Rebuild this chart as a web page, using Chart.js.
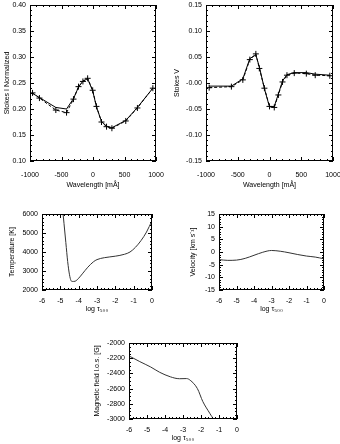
<!DOCTYPE html>
<html>
<head>
<meta charset="utf-8">
<script src="https://cdn.jsdelivr.net/npm/chart.js@4"></script>
<style>
  body { margin: 0; background: #fff; }
  #wrap { position: relative; width: 340px; height: 444px; overflow: hidden; }
  #wrap div { position: absolute; }
</style>
</head>
<body>
<div id="wrap">
  <div id="p1" style="left:0;top:0;width:165px;height:192px"><canvas id="c1"></canvas></div>
  <div id="p2" style="left:170px;top:0;width:170px;height:192px"><canvas id="c2"></canvas></div>
  <div id="p3" style="left:0;top:205px;width:165px;height:110px"><canvas id="c3"></canvas></div>
  <div id="p4" style="left:170px;top:205px;width:170px;height:110px"><canvas id="c4"></canvas></div>
  <div id="p5" style="left:80px;top:335px;width:175px;height:109px"><canvas id="c5"></canvas></div>
</div>
<script>
// Stokes I profile (observed + fit)
const wavelengthI = [-960, -850, -590, -420, -310, -230, -160, -85, -5, 55, 135, 215, 300, 520, 705, 950];
const stokesIObs = [0.231, 0.221, 0.198, 0.193, 0.219, 0.243, 0.253, 0.259, 0.236, 0.205, 0.175, 0.166, 0.163, 0.177, 0.202, 0.240];
const stokesIFit = [0.230, 0.222, 0.203, 0.200, 0.220, 0.242, 0.254, 0.258, 0.235, 0.204, 0.176, 0.167, 0.164, 0.178, 0.203, 0.240];

// Stokes V profile (observed + fit)
const wavelengthV = [-950, -600, -420, -310, -215, -160, -80, 0, 75, 140, 205, 275, 390, 580, 720, 950];
const stokesVObs = [-0.009, -0.007, 0.006, 0.045, 0.056, 0.028, -0.010, -0.045, -0.047, -0.023, 0.002, 0.015, 0.019, 0.018, 0.015, 0.014];
const stokesVFit = [-0.006, -0.006, 0.008, 0.047, 0.054, 0.031, -0.011, -0.046, -0.045, -0.021, 0.004, 0.016, 0.020, 0.020, 0.017, 0.015];

// inverted atmosphere
const logTauT = [-4.9, -4.8, -4.7, -4.6, -4.5, -4.42, -4.35, -4.2, -4.0, -3.8, -3.5, -3.2, -3.0, -2.6, -2.0, -1.5, -1.2, -0.9, -0.6, -0.3, 0];
const temperature = [6500, 5500, 4500, 3500, 2800, 2500, 2450, 2460, 2620, 2850, 3200, 3480, 3600, 3700, 3780, 3880, 4000, 4250, 4600, 5050, 5650];

const logTauV = [-6, -5.5, -5.0, -4.5, -4.0, -3.5, -3.0, -2.5, -2.0, -1.5, -1.0, -0.5, 0];
const velocity = [-3.0, -3.3, -3.2, -2.5, -1.3, -0.1, 0.6, 0.3, -0.3, -1.0, -1.6, -2.0, -2.7];

const logTauB = [-6, -5.4, -4.8, -4.3, -3.7, -3.2, -2.8, -2.6, -2.2, -1.9, -1.5, -1.3, -1.0];
const fieldB = [-2170, -2245, -2315, -2385, -2445, -2470, -2468, -2490, -2600, -2770, -2930, -3010, -3200];

// tick labels
const wavelengthTicks = ['-1000', '-500', '0', '500', '1000'];
const stokesITicks = ['0.10', '0.15', '0.20', '0.25', '0.30', '0.35', '0.40'];
const stokesVTicks = ['-0.15', '-0.10', '-0.05', '-0.00', '0.05', '0.10', '0.15'];
const logTauTicks = ['-6', '-5', '-4', '-3', '-2', '-1', '0'];
const temperatureTicks = ['2000', '3000', '4000', '5000', '6000'];
const velocityTicks = ['-15', '-10', '-5', '0', '5', '10', '15'];
const fieldTicks = ['-3000', '-2800', '-2600', '-2400', '-2200', '-2000'];

const FONT = 'Liberation Sans, Arial, sans-serif';
Chart.defaults.font.family = FONT;
Chart.defaults.font.size = 7;
Chart.defaults.color = '#000';

const pts = (xs, ys) => xs.map((x, i) => ({ x: x, y: ys[i] }));

// IDL style box with inward major + minor ticks
const idlBox = {
  id: 'idlBox',
  afterDatasetsDraw(chart, args, opts) {
    const ctx = chart.ctx;
    const a = chart.chartArea;
    const xs = chart.scales.x, ys = chart.scales.y;
    ctx.save();
    ctx.strokeStyle = '#000';
    ctx.lineWidth = 1;
    ctx.strokeRect(a.left + 0.5, a.top + 0.5, a.right - a.left - 1, a.bottom - a.top - 1);
    ctx.beginPath();
    const tickX = (v, len) => {
      const p = Math.round(xs.getPixelForValue(v)) + 0.5;
      ctx.moveTo(p, a.bottom); ctx.lineTo(p, a.bottom - len);
      ctx.moveTo(p, a.top); ctx.lineTo(p, a.top + len);
    };
    const tickY = (v, len) => {
      const p = Math.round(ys.getPixelForValue(v)) + 0.5;
      ctx.moveTo(a.left, p); ctx.lineTo(a.left + len, p);
      ctx.moveTo(a.right, p); ctx.lineTo(a.right - len, p);
    };
    const n1 = Math.round((xs.max - xs.min) / opts.xMinor);
    for (let i = 0; i <= n1; i++) tickX(xs.min + i * opts.xMinor, 2);
    const n2 = Math.round((ys.max - ys.min) / opts.yMinor);
    for (let i = 0; i <= n2; i++) tickY(ys.min + i * opts.yMinor, 2);
    xs.ticks.forEach(t => tickX(t.value, 4));
    ys.ticks.forEach(t => tickY(t.value, 4));
    ctx.stroke();
    ctx.restore();
  }
};

function makeChart(id, cfg) {
  const yw = cfg.yWidth, xh = cfg.xHeight;
  return new Chart(document.getElementById(id), {
    type: 'line',
    data: { datasets: cfg.datasets },
    options: {
      responsive: true,
      maintainAspectRatio: false,
      animation: false,
      events: [],
      layout: { padding: { top: cfg.padTop, right: cfg.padRight, left: cfg.padLeft, bottom: 0 } },
      plugins: {
        legend: { display: false },
        tooltip: { enabled: false },
        idlBox: { xMinor: cfg.xMinor, yMinor: cfg.yMinor }
      },
      scales: {
        x: {
          type: 'linear',
          min: cfg.xMin, max: cfg.xMax,
          grid: { display: false, drawTicks: false },
          border: { display: false },
          afterBuildTicks: s => { s.ticks = cfg.xTickVals.map(v => ({ value: v })); },
          ticks: {
            autoSkip: false, maxRotation: 0, padding: cfg.xTickPad,
            callback: (v, i) => cfg.xLabels[i]
          },
          title: { display: true, text: cfg.xTitle, padding: { top: 0, bottom: cfg.xTitlePad } },
          afterFit: s => { s.height = xh; s.paddingLeft = 0; s.paddingRight = 0; }
        },
        y: {
          min: cfg.yMin, max: cfg.yMax,
          grid: { display: false, drawTicks: false },
          border: { display: false },
          afterBuildTicks: s => { s.ticks = cfg.yTickVals.map(v => ({ value: v })); },
          ticks: {
            autoSkip: false, padding: 4,
            callback: (v, i) => cfg.yLabels[i]
          },
          title: { display: true, text: cfg.yTitle, padding: { top: 0, bottom: 0 } },
          afterFit: s => { s.width = yw; s.paddingTop = 0; s.paddingBottom = 0; }
        }
      }
    },
    plugins: [idlBox]
  });
}

const vals = (labels) => labels.map(Number);

const obsStyle = {
  borderColor: '#000', borderWidth: 1, borderDash: [3, 2],
  pointStyle: 'cross', pointRadius: 3, pointBorderColor: '#000', pointBorderWidth: 1,
  tension: 0, fill: false
};
const fitStyle = {
  borderColor: '#000', borderWidth: 1, pointRadius: 0, tension: 0, fill: false
};
const atmStyle = {
  borderColor: '#333', borderWidth: 1, pointRadius: 0, fill: false,
  cubicInterpolationMode: 'monotone'
};

makeChart('c1', {
  datasets: [
    Object.assign({ data: pts(wavelengthI, stokesIObs) }, obsStyle),
    Object.assign({ data: pts(wavelengthI, stokesIFit) }, fitStyle)
  ],
  xMin: -1000, xMax: 1000, xTickVals: vals(wavelengthTicks), xLabels: wavelengthTicks, xMinor: 100,
  yMin: 0.10, yMax: 0.40, yTickVals: vals(stokesITicks), yLabels: stokesITicks, yMinor: 0.01,
  xTitle: 'Wavelength [mÅ]', yTitle: 'Stokes I Normalized',
  padLeft: 3, yWidth: 27, xHeight: 31, padTop: 2, padRight: 9, xTitlePad: 3, xTickPad: 10
});

makeChart('c2', {
  datasets: [
    Object.assign({ data: pts(wavelengthV, stokesVObs) }, obsStyle),
    Object.assign({ data: pts(wavelengthV, stokesVFit) }, fitStyle)
  ],
  xMin: -1000, xMax: 1000, xTickVals: vals(wavelengthTicks), xLabels: wavelengthTicks, xMinor: 100,
  yMin: -0.15, yMax: 0.15, yTickVals: vals(stokesVTicks), yLabels: stokesVTicks, yMinor: 0.01,
  xTitle: 'Wavelength [mÅ]', yTitle: 'Stokes V',
  padLeft: 3, yWidth: 33, xHeight: 31, padTop: 2, padRight: 7, xTitlePad: 3, xTickPad: 10
});

makeChart('c3', {
  datasets: [Object.assign({ data: pts(logTauT, temperature) }, atmStyle)],
  xMin: -6, xMax: 0, xTickVals: vals(logTauTicks), xLabels: logTauTicks, xMinor: 0.2,
  yMin: 2000, yMax: 6000, yTickVals: vals(temperatureTicks), yLabels: temperatureTicks, yMinor: 200,
  xTitle: 'log τ₅₀₀', yTitle: 'Temperature [K]',
  padLeft: 8, yWidth: 34, xHeight: 25, padTop: 9, padRight: 13, xTitlePad: 2, xTickPad: 7
});

makeChart('c4', {
  datasets: [Object.assign({ data: pts(logTauV, velocity) }, atmStyle)],
  xMin: -6, xMax: 0, xTickVals: vals(logTauTicks), xLabels: logTauTicks, xMinor: 0.2,
  yMin: -15, yMax: 15, yTickVals: vals(velocityTicks), yLabels: velocityTicks, yMinor: 1,
  xTitle: 'log τ₅₀₀', yTitle: 'Velocity [km s⁻¹]',
  padLeft: 19, yWidth: 30, xHeight: 25, padTop: 9, padRight: 16, xTitlePad: 2, xTickPad: 7
});

makeChart('c5', {
  datasets: [Object.assign({ data: pts(logTauB, fieldB) }, atmStyle)],
  xMin: -6, xMax: 0, xTickVals: vals(logTauTicks), xLabels: logTauTicks, xMinor: 0.2,
  yMin: -3000, yMax: -2000, yTickVals: vals(fieldTicks), yLabels: fieldTicks, yMinor: 50,
  xTitle: 'log τ₅₀₀', yTitle: 'Magnetic field l.o.s. [G]',
  padLeft: 13, yWidth: 36, xHeight: 25, padTop: 8, padRight: 18, xTitlePad: 2, xTickPad: 7
});
</script>
</body>
</html>
